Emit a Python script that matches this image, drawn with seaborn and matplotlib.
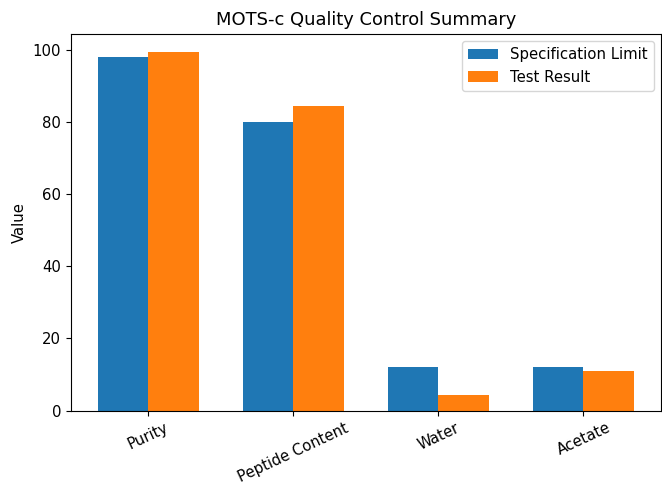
import matplotlib
matplotlib.use("Agg")
import matplotlib.pyplot as plt
import pandas as pd
import seaborn as sns

categories = ["Purity", "Peptide Content", "Water", "Acetate"]
spec_limit = [98, 80, 12, 12]
test_result = [99.5, 84.4, 4.2, 10.9]
series_names = ["Specification Limit", "Test Result"]

df = pd.DataFrame({
    "Parameter": categories * 2,
    "Value": spec_limit + test_result,
    "Series": [series_names[0]] * len(categories) + [series_names[1]] * len(categories),
})

plt.rcParams["font.size"] = 10.75

fig, ax = plt.subplots(figsize=(6.62, 4.83), dpi=100)
sns.barplot(data=df, x="Parameter", y="Value", hue="Series",
            palette=["#1f77b4", "#ff7f0e"], saturation=1, width=0.7,
            linewidth=0, ax=ax)

# back to matplotlib's default x margins
ax.autoscale(enable=True, axis="x")
ax.margins(x=0.05)

ax.set_title("MOTS-c Quality Control Summary")
ax.set_xlabel("")
ax.set_ylabel("Value")
plt.setp(ax.get_xticklabels(), rotation=25)
ax.legend(loc="upper right")

# reference was saved tight, axes nearly touch the right edge
fig.subplots_adjust(left=0.107, right=0.9985, top=0.93, bottom=0.15)
plt.savefig("out.png")
plt.close()
